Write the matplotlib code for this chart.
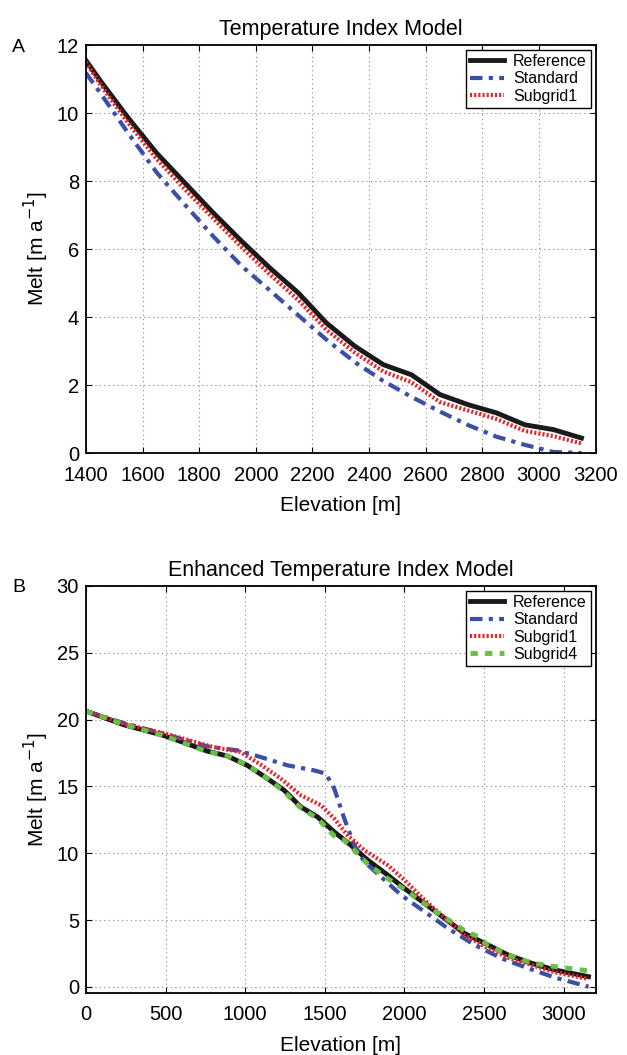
import matplotlib.pyplot as plt
import numpy as np

plt.rcParams['font.family'] = ['Liberation Sans', 'DejaVu Sans']

# Panel A: Temperature Index Model
elev_a = [1400, 1450, 1550, 1650, 1750, 1850, 1950, 2050, 2150, 2250,
          2350, 2450, 2550, 2650, 2750, 2850, 2950, 3050, 3150]
ref_a = [11.55, 10.96, 9.85, 8.82, 7.94, 7.06, 6.23, 5.44, 4.71, 3.82,
         3.14, 2.60, 2.30, 1.72, 1.42, 1.18, 0.83, 0.69, 0.44]
std_a = [11.18, 10.60, 9.40, 8.25, 7.30, 6.37, 5.50, 4.78, 4.05, 3.33,
         2.67, 2.12, 1.65, 1.22, 0.82, 0.48, 0.24, 0.03, 0.00]
sub1_a = [11.50, 10.85, 9.70, 8.65, 7.75, 6.90, 6.05, 5.25, 4.50, 3.62,
          2.95, 2.40, 2.08, 1.50, 1.25, 1.00, 0.65, 0.50, 0.28]

# Panel B: Enhanced Temperature Index Model
elev_b_ref = [0, 235, 487, 634, 760, 887, 1013, 1139, 1244, 1349, 1454, 1559,
              1664, 1769, 1895, 2000, 2126, 2252, 2378, 2525, 2651, 2798, 2945, 3155]
ref_b = [20.64, 19.62, 18.82, 18.20, 17.65, 17.28, 16.58, 15.59, 14.72, 13.47,
         12.72, 11.60, 10.60, 9.49, 8.37, 7.37, 6.25, 5.13, 4.00, 3.14, 2.39,
         1.77, 1.27, 0.77]
elev_b_std = [0, 235, 500, 760, 950, 1097, 1265, 1433, 1506, 1559, 1622, 1685,
              1748, 1853, 1979, 2126, 2273, 2441, 2609, 2777, 2945, 3155]
std_b = [20.64, 19.75, 18.90, 18.00, 17.70, 17.20, 16.58, 16.20, 15.96, 14.84,
         12.60, 10.60, 9.36, 8.24, 6.87, 5.63, 4.38, 3.14, 2.14, 1.39, 0.70, 0.02]
elev_b_sub1 = [0, 235, 500, 800, 970, 1097, 1223, 1349, 1475, 1559, 1643, 1748,
               1895, 2000, 2126, 2252, 2378, 2525, 2651, 2798, 2945, 3155]
sub1_b = [20.64, 19.70, 18.95, 17.95, 17.58, 16.63, 15.59, 14.34, 13.60, 12.60,
          11.35, 10.23, 9.11, 8.00, 6.50, 5.18, 3.88, 2.89, 2.19, 1.64, 1.10, 0.60]
elev_b_sub4 = [0, 235, 487, 760, 887, 1013, 1139, 1244, 1349, 1454, 1559, 1622,
               1769, 1895, 2000, 2126, 2252, 2378, 2462, 2525, 2651, 2798, 2945,
               3113, 3155]
sub4_b = [20.64, 19.65, 18.80, 17.60, 17.30, 16.60, 15.60, 14.60, 13.40, 12.60,
          11.30, 10.98, 9.20, 8.10, 7.30, 6.20, 5.20, 4.20, 3.76, 3.10, 2.40,
          1.80, 1.52, 1.27, 1.20]

c_blue = '#3b4fa8'
c_red = '#ee2024'
c_green = '#6abd45'

fig = plt.figure(figsize=(6.27, 10.55), dpi=100)
ax1 = fig.add_axes([0.137, 0.5706, 0.813, 0.3867])
ax2 = fig.add_axes([0.137, 0.0588, 0.813, 0.3858])


def style(ax):
    ax.grid(True, linestyle=(0, (1, 3)), color='#888888', lw=0.8)
    ax.tick_params(direction='in', labelsize=14.5, length=4, top=True, right=True)
    ax.tick_params(axis='x', pad=9)
    ax.tick_params(axis='y', pad=5)
    for s in ax.spines.values():
        s.set_linewidth(1.3)
    ax.set_xlabel('Elevation [m]', fontsize=15, labelpad=8)
    ax.set_ylabel('Melt [m a$^{-1}$]', fontsize=15, labelpad=4)


def add_legend(ax):
    leg = ax.legend(loc='upper right', fontsize=11.5, fancybox=False, edgecolor='black',
                    framealpha=1, handlelength=2.1, borderpad=0.25, labelspacing=0.15,
                    handletextpad=0.6, borderaxespad=0.3)
    leg.get_frame().set_linewidth(1.0)


ax1.plot(elev_a, ref_a, color='#1a1a1a', lw=3.5, label='Reference')
ax1.plot(elev_a, std_a, color=c_blue, lw=3, ls=(0, (3, 1.5, 1, 1.5)), label='Standard')
ax1.plot(elev_a, sub1_a, color=c_red, lw=3, ls=(0, (0.5, 0.5)), label='Subgrid1')
ax1.set_xlim(1400, 3200)
ax1.set_ylim(0, 12)
ax1.set_xticks(np.arange(1400, 3201, 200))
ax1.set_yticks(np.arange(0, 13, 2))
ax1.set_title('Temperature Index Model', fontsize=15.5, pad=7)
style(ax1)
add_legend(ax1)

ax2.plot(elev_b_ref, ref_b, color='#1a1a1a', lw=3.5, label='Reference')
ax2.plot(elev_b_std, std_b, color=c_blue, lw=3, ls=(0, (3, 1.5, 1, 1.5)), label='Standard')
ax2.plot(elev_b_sub1, sub1_b, color=c_red, lw=3, ls=(0, (0.5, 0.5)), label='Subgrid1')
ax2.plot(elev_b_sub4, sub4_b, color=c_green, lw=3.5, ls=(0, (1.5, 1.5)), label='Subgrid4')
ax2.set_xlim(0, 3200)
ax2.set_ylim(-0.45, 30)
ax2.set_xticks(np.arange(0, 3001, 500))
ax2.set_yticks(np.arange(0, 31, 5))
ax2.set_title('Enhanced Temperature Index Model', fontsize=15.5, pad=7)
style(ax2)
add_legend(ax2)

fig.text(12 / 627, 1 - 47 / 1055, 'A', fontsize=14, va='center')
fig.text(12 / 627, 1 - 588 / 1055, 'B', fontsize=14, va='center')

plt.savefig('out.png', dpi=100)
